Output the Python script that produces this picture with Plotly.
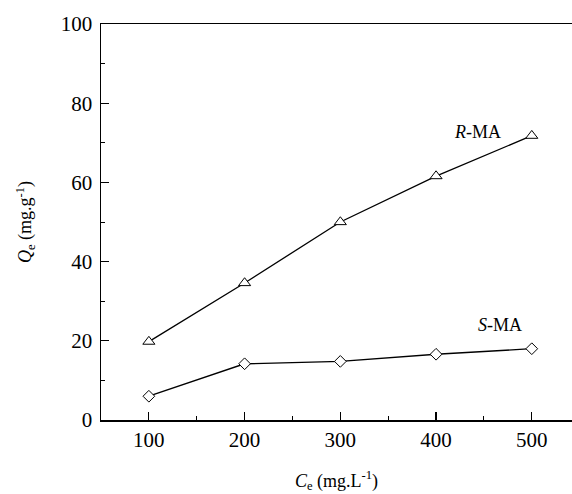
import plotly.graph_objects as go

ce = [100, 200, 300, 400, 500]
r_ma = [19.8, 34.6, 50.0, 61.6, 71.8]
s_ma = [6.0, 14.2, 14.8, 16.6, 18.0]

x_ticks = [100, 200, 300, 400, 500]
y_ticks = [0, 20, 40, 60, 80, 100]

FONT = "Liberation Serif"

fig = go.Figure()
fig.add_trace(go.Scatter(
    x=ce, y=r_ma, mode="lines+markers",
    line=dict(color="black", width=1.3),
    marker=dict(symbol="triangle-up", size=10.5, color="white",
                line=dict(color="black", width=1)),
    showlegend=False, hoverinfo="skip"))
fig.add_trace(go.Scatter(
    x=ce, y=s_ma, mode="lines+markers",
    line=dict(color="black", width=1.3),
    marker=dict(symbol="diamond", size=9, color="white",
                line=dict(color="black", width=1)),
    showlegend=False, hoverinfo="skip"))

fig.add_annotation(x=443, y=72.7, text="<i>R</i>-MA", showarrow=False,
                   font=dict(family=FONT, size=18, color="black"))
fig.add_annotation(x=467, y=24, text="<i>S</i>-MA", showarrow=False,
                   font=dict(family=FONT, size=18, color="black"))

fig.update_layout(
    width=572, height=494, autosize=False,
    margin=dict(l=101, r=0, t=24, b=74),
    plot_bgcolor="white", paper_bgcolor="white",
    hovermode=False, dragmode=False,
    font=dict(family=FONT, color="black"),
    xaxis=dict(
        range=[50, 542], tickvals=x_ticks, ticktext=[str(v) for v in x_ticks],
        ticks="inside", ticklen=8, tickwidth=1.2, tickcolor="black",
        showline=True, linecolor="black", linewidth=1.5, mirror=True,
        showgrid=False, zeroline=False, showspikes=False,
        tickfont=dict(family=FONT, size=21, color="black"),
        minor=dict(ticks="inside", ticklen=4, tickwidth=1, tickcolor="black",
                   dtick=50, tick0=0, showgrid=False),
        title=dict(text="<i>C</i><sub>e</sub> (mg.L<sup>-1</sup>)",
                   font=dict(family=FONT, size=18, color="black"), standoff=23),
    ),
    yaxis=dict(
        range=[0, 100], tickvals=y_ticks, ticktext=[str(v) for v in y_ticks],
        ticks="inside", ticklen=8, tickwidth=1.2, tickcolor="black",
        showline=True, linecolor="black", linewidth=1.5, mirror=False,
        showgrid=False, zeroline=False, ticklabelstandoff=3, showspikes=False,
        tickfont=dict(family=FONT, size=21, color="black"),
        minor=dict(ticks="inside", ticklen=4, tickwidth=1, tickcolor="black",
                   dtick=10, tick0=0, showgrid=False),
        title=dict(text="<i>Q</i><sub>e</sub> (mg.g<sup>-1</sup>)",
                   font=dict(family=FONT, size=18, color="black"), standoff=24),
    ),
)

fig.write_html("out.html", config={"displayModeBar": False, "staticPlot": True},
               post_script="document.body.style.margin='0';document.body.style.overflow='hidden';")
